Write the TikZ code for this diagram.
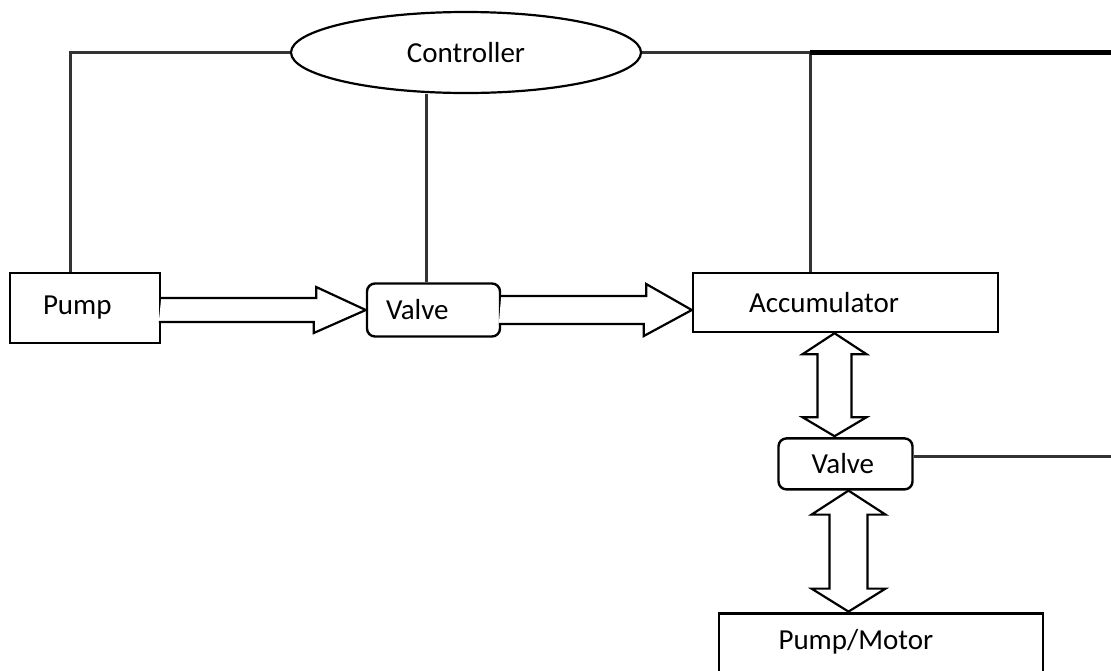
\documentclass[tikz,border=0pt]{standalone}
\usepackage{fontspec}
\setmainfont{Carlito}
\usepackage{tikz}
\usetikzlibrary{calc}
\usetikzlibrary{positioning}
\usetikzlibrary{shapes}

\begin{document}
\begin{tikzpicture} [x=0.5pt, y=-0.5pt,
                every node/.style = {font=\fontsize{14.5}{17}\selectfont},
                block/.style = {draw, line width=1.2pt, align=left},
                valve/.style = {block, rounded corners=4pt},
                wire/.style = {line width=1.5pt, black!80},
                bus/.style = {line width=2.2pt, black},
                fatarrow/.style = {draw, fill=white, line width=1.1pt, line join=miter}
            ]
            \useasboundingbox (0,0) rectangle (1111,670);
            \node (ctrl) at (466,52.5) [draw, ellipse, line width=1.1pt, minimum width=175pt, minimum height=40.5pt, inner sep=0pt] {Controller};
            \node (pump) at (85,308) [block, text width=42pt, inner xsep=16.5pt, minimum height=35pt] {Pump};
            \node (v1) at (433.5,310) [valve, text width=47.5pt, inner xsep=9.5pt, minimum height=26.5pt] {Valve};
            \node (acc) at (845.5,302.5) [block, text width=96.5pt, inner xsep=28pt, minimum height=29.5pt] {Accumulator};
            \node[valve, below=52pt of acc, text width=34pt, inner xsep=16.5pt, minimum height=25.5pt] (v2) {Valve};
            \node[below=61.5pt of v2, xshift=17.75pt, text width=102.5pt, inner xsep=29.5pt, minimum height=28pt, align=left] (pm) {Pump/Motor};
            \draw [line width=1.2pt] ([yshift=-2pt] pm.south west) |- (pm.north east) -- ([yshift=-2pt] pm.south east);
            % control lines
            \coordinate (v1in) at ($(v1.north)+(-7.5,0)$);
            \coordinate (accin) at ($(acc.north)+(-35.5,0)$);
            \coordinate (tr) at (1111,52.5);
            \coordinate (r2) at (1111,456);
            \draw [wire] (ctrl.west) -| ($(pump.north west)+(62,0)$);
            \draw [wire] (v1in) -- (v1in |- ctrl.south);
            \draw [wire] (ctrl.east) -- (accin |- ctrl.east);
            \draw [wire] (accin) -- (accin |- ctrl.east);
            \draw [bus] (accin |- ctrl.east) -- (tr);
            \draw [wire] (v2.east |- r2) -- (r2);
            % flow arrows
            \draw [fatarrow] (pump.east |- v1.west) ++(0,-12) -- ++(155,0) -- ++(0,-11) -- (v1.west) -- ++(-52,23) -- ++(0,-11) -- ++(-155,0);
            \draw [fatarrow] (v1.east) ++(0,-14) -- ++(145,0) -- ++(0,-12) -- (acc.west |- v1.east) -- ++(-48,26) -- ++(0,-12) -- ++(-145,0);
            \draw [fatarrow] ($(acc.south)+(-11,0)$) -- ++(32,21) -- ++(-15,0) -- ++(0,63) -- ++(15,0) -- ++(-32,19) -- ++(-32,-19) -- ++(15,0) -- ++(0,-63) -- ++(-15,0) -- cycle;
            \draw [fatarrow] ($(v2.south)+(3,0)$) -- ++(37,24) -- ++(-18,0) -- ++(0,74) -- ++(18,0) -- ++(-37,23) -- ++(-37,-23) -- ++(18,0) -- ++(0,-74) -- ++(-18,0) -- cycle;
        \end{tikzpicture}
\end{document}
